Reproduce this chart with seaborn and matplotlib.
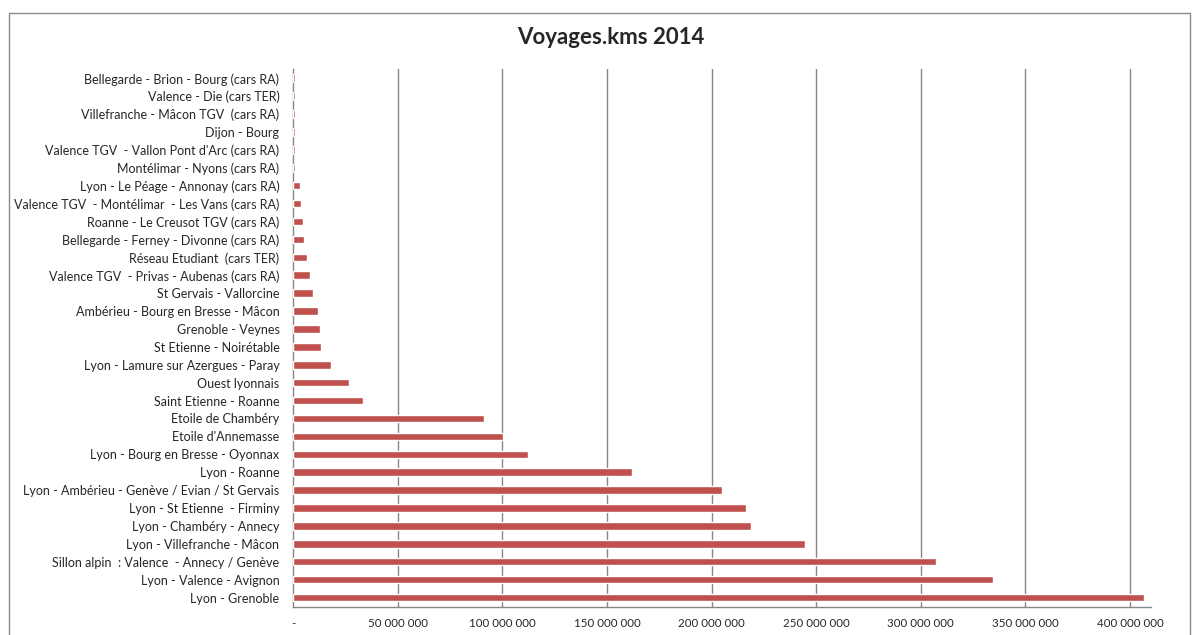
import matplotlib
matplotlib.use("Agg")
import matplotlib.pyplot as plt
import matplotlib.patches as mpatches
import numpy as np
import pandas as pd
import seaborn as sns

# lignes, de haut en bas
lignes = [
    "Bellegarde - Brion - Bourg (cars RA)",
    "Valence - Die (cars TER)",
    "Villefranche - Mâcon TGV  (cars RA)",
    "Dijon - Bourg",
    "Valence TGV  - Vallon Pont d'Arc (cars RA)",
    "Montélimar - Nyons (cars RA)",
    "Lyon - Le Péage - Annonay (cars RA)",
    "Valence TGV  - Montélimar  - Les Vans (cars RA)",
    "Roanne - Le Creusot TGV (cars RA)",
    "Bellegarde - Ferney - Divonne (cars RA)",
    "Réseau Etudiant  (cars TER)",
    "Valence TGV  - Privas - Aubenas (cars RA)",
    "St Gervais - Vallorcine",
    "Ambérieu - Bourg en Bresse - Mâcon",
    "Grenoble - Veynes",
    "St Etienne - Noirétable",
    "Lyon - Lamure sur Azergues - Paray",
    "Ouest lyonnais",
    "Saint Etienne - Roanne",
    "Etoile de Chambéry",
    "Etoile d'Annemasse",
    "Lyon - Bourg en Bresse - Oyonnax",
    "Lyon - Roanne",
    "Lyon - Ambérieu - Genève / Evian / St Gervais",
    "Lyon - St Etienne  - Firminy",
    "Lyon - Chambéry - Annecy",
    "Lyon - Villefranche - Mâcon",
    "Sillon alpin  : Valence  - Annecy / Genève",
    "Lyon - Valence - Avignon",
    "Lyon - Grenoble",
]

voyages_kms = [
    0.8e6, 0.7e6, 0.7e6, 0.7e6, 0.7e6, 0.9e6,
    3.2e6, 3.7e6, 4.6e6, 5.1e6, 6.6e6, 8.1e6,
    9.6e6, 11.7e6, 12.8e6, 13.1e6, 18.2e6, 26.6e6,
    33.5e6, 91.0e6, 100.1e6, 112.0e6, 162.1e6, 205.1e6,
    216.5e6, 218.6e6, 244.6e6, 307.1e6, 334.6e6, 406.7e6,
]

x_ticks = [0, 50e6, 100e6, 150e6, 200e6, 250e6, 300e6, 350e6, 400e6]

df = pd.DataFrame({"ligne": lignes, "voyages_kms": voyages_kms})

sns.set_style("white")
plt.rcParams["font.family"] = ["Lato", "DejaVu Sans"]

fig = plt.figure(figsize=(11.95, 6.35), dpi=100)
ax = fig.add_axes([293.3 / 1195, 1 - 606.5 / 635, (1150.7 - 293.3) / 1195, (606.5 - 69.3) / 635])

sns.barplot(data=df, x="voyages_kms", y="ligne", orient="h", color="#C0504D",
            width=0.42, saturation=1, ax=ax, zorder=3)

ax.set_xlim(0, 409.9e6)
ax.set_ylim(len(lignes) - 0.5, -0.5)

# grille verticale
for v in x_ticks[1:]:
    ax.axvline(v, color="#868686", linewidth=1, zorder=1)

ax.set_xticks(x_ticks)
ax.set_xticklabels(["-" if v == 0 else f"{v:,.0f}".replace(",", " ") for v in x_ticks],
                   fontsize=8.3)
ax.tick_params(axis="x", direction="out", length=4, width=1, color="#868686", pad=4)

ax.tick_params(axis="y", length=0, pad=10, labelsize=9)
ax.set_yticks(np.arange(len(lignes) + 1) - 0.5, minor=True)
ax.tick_params(axis="y", which="minor", direction="out", length=4, width=1, color="#868686")

ax.set_xlabel("")
ax.set_ylabel("")
for side in ["top", "right"]:
    ax.spines[side].set_visible(False)
for side in ["left", "bottom"]:
    ax.spines[side].set_color("#868686")
    ax.spines[side].set_linewidth(1)

fig.text(611 / 1195, 1 - 38 / 635, "Voyages.kms 2014", ha="center", va="center",
         fontsize=16, fontweight="bold")

# cadre du graphique
fig.patches.append(mpatches.Rectangle((8.5 / 1195, -0.05), (1190 - 8.5) / 1195, 1.05 - 12.5 / 635,
                                      transform=fig.transFigure, fill=False,
                                      edgecolor="#8c8c8c", linewidth=1))

fig.savefig("out.png", dpi=100)
